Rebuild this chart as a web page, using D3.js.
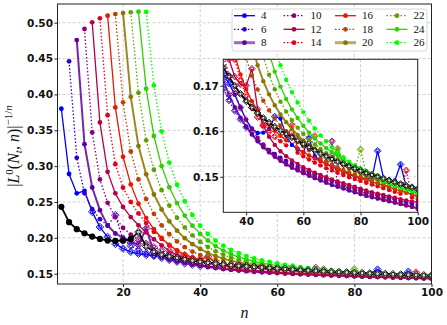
<!DOCTYPE html>
<html>
<head>
<meta charset="utf-8">
<script src="https://cdn.jsdelivr.net/npm/d3@7/dist/d3.min.js"></script>
<style>
  body { margin: 0; background: #fff; }
  svg { display: block; }
  .tick text { font-family: "DejaVu Sans", sans-serif; font-size: 10.5px; font-weight: bold; fill: #111; }
  .tick line { stroke: #222; }
  .grid line { stroke: #bbb; stroke-dasharray: 3,2; stroke-width: 0.7; }
  .frame { fill: none; stroke: #222; stroke-width: 1; }
  .math { font-family: "Liberation Serif", "DejaVu Serif", serif; fill: #111; }
  .legend text { font-family: "Liberation Serif", "DejaVu Serif", serif; font-size: 11px; fill: #111; }
</style>
</head>
<body>
<svg id="chart" width="447" height="325"></svg>
<script>
// N_t values, one curve each; values are |L^0(N_t,n)|^(-1/n) for n = N_t, N_t+2, ..., 100
var ntList = [4, 6, 8, 10, 12, 14, 16, 18, 20, 22, 24, 26];

var nt4 = [0.380, 0.289, 0.262, 0.2655, 0.2362, 0.2150, 0.2010, 0.1915, 0.1850, 0.1805, 0.1778, 0.1762, 0.1756, 0.1745, 0.1725, 0.1705, 0.1680, 0.1652, 0.1625, 0.1606, 0.1596, 0.1597, 0.1605, 0.1632, 0.1628, 0.1590, 0.1570, 0.1560, 0.1554, 0.1585, 0.1545, 0.1535, 0.1528, 0.1522, 0.1516, 0.1511, 0.1506, 0.1501, 0.1497, 0.1495, 0.1497, 0.1557, 0.1498, 0.1490, 0.1492, 0.1527, 0.1478, 0.1470, 0.1462];
var nt6 = [0.4461, 0.3115, 0.262, 0.240, 0.226, 0.217, 0.2316, 0.1975, 0.1890, 0.1830, 0.1785, 0.1750, 0.1720, 0.1693, 0.1668, 0.1645, 0.1626, 0.1609, 0.1594, 0.1581, 0.1569, 0.1559, 0.1550, 0.1542, 0.1535, 0.1528, 0.1522, 0.1516, 0.1510, 0.1505, 0.1500, 0.1495, 0.1490, 0.1486, 0.1482, 0.1478, 0.1474, 0.1470, 0.1466, 0.1462, 0.1459, 0.1456, 0.1453, 0.1450, 0.1447, 0.1444, 0.1441, 0.1438];
var nt8 = [0.4758, 0.3306, 0.2702, 0.2386, 0.2172, 0.2060, 0.2004, 0.1945, 0.1905, 0.2130, 0.1800, 0.1750, 0.1712, 0.1680, 0.1653, 0.1630, 0.1610, 0.1593, 0.1578, 0.1565, 0.1554, 0.1544, 0.1535, 0.1527, 0.1520, 0.1514, 0.1508, 0.1502, 0.1497, 0.1492, 0.1487, 0.1482, 0.1478, 0.1474, 0.1470, 0.1466, 0.1462, 0.1458, 0.1455, 0.1452, 0.1449, 0.1446, 0.1443, 0.1440, 0.1437, 0.1434, 0.1431];
var nt10 = [0.4912, 0.347, 0.2814, 0.2488, 0.2287, 0.2140, 0.2045, 0.1975, 0.1918, 0.1868, 0.1822, 0.1768, 0.1722, 0.1684, 0.1652, 0.1626, 0.1604, 0.1586, 0.1571, 0.1558, 0.1547, 0.1538, 0.1530, 0.1523, 0.1517, 0.1511, 0.1506, 0.1501, 0.1496, 0.1491, 0.1578, 0.1483, 0.1479, 0.1475, 0.1471, 0.1467, 0.1463, 0.1459, 0.1455, 0.1451, 0.1448, 0.1445, 0.1441, 0.1438, 0.1434, 0.1429];
var nt12 = [0.5005, 0.361, 0.292, 0.262, 0.243, 0.229, 0.2175, 0.2075, 0.1980, 0.1895, 0.1820, 0.1758, 0.1720, 0.1703, 0.1700, 0.1737, 0.1648, 0.1612, 0.1588, 0.1570, 0.1556, 0.1545, 0.1536, 0.1528, 0.1521, 0.1515, 0.1509, 0.1504, 0.1499, 0.1494, 0.1490, 0.1486, 0.1482, 0.1478, 0.1474, 0.1470, 0.1466, 0.1463, 0.1460, 0.1457, 0.1454, 0.1451, 0.1448, 0.1446, 0.1444];
var nt14 = [0.5061, 0.371, 0.3027, 0.2700, 0.2500, 0.2340, 0.2205, 0.2085, 0.1985, 0.1895, 0.1818, 0.1758, 0.1712, 0.1678, 0.1652, 0.1631, 0.1614, 0.1600, 0.1588, 0.1578, 0.1569, 0.1590, 0.1553, 0.1545, 0.1538, 0.1531, 0.1525, 0.1519, 0.1514, 0.1509, 0.1504, 0.1499, 0.1495, 0.1491, 0.1487, 0.1483, 0.1479, 0.1475, 0.1471, 0.1467, 0.1463, 0.1514, 0.1455, 0.1451];
var nt16 = [0.5098, 0.3818, 0.313, 0.2745, 0.2475, 0.2275, 0.2120, 0.1998, 0.1900, 0.1825, 0.1768, 0.1725, 0.1692, 0.1666, 0.1645, 0.1628, 0.1614, 0.1601, 0.1590, 0.1580, 0.1613, 0.1562, 0.1554, 0.1547, 0.1540, 0.1534, 0.1528, 0.1522, 0.1517, 0.1512, 0.1507, 0.1502, 0.1497, 0.1493, 0.1489, 0.1485, 0.1481, 0.1477, 0.1473, 0.1469, 0.1465, 0.1461, 0.1457];
var nt18 = [0.5121, 0.389, 0.3204, 0.2815, 0.2540, 0.2335, 0.2175, 0.2050, 0.1950, 0.1870, 0.1808, 0.1760, 0.1722, 0.1692, 0.1667, 0.1646, 0.1628, 0.1613, 0.1600, 0.1588, 0.1577, 0.1567, 0.1558, 0.1590, 0.1541, 0.1534, 0.1527, 0.1521, 0.1515, 0.1510, 0.1505, 0.1500, 0.1495, 0.1490, 0.1486, 0.1482, 0.1478, 0.1474, 0.1470, 0.1466, 0.1462, 0.1458];
var nt20 = [0.5135, 0.3967, 0.328, 0.2885, 0.2605, 0.2395, 0.2230, 0.2100, 0.1995, 0.1912, 0.1845, 0.1790, 0.1745, 0.1710, 0.1681, 0.1657, 0.1637, 0.1620, 0.1605, 0.1592, 0.1580, 0.1570, 0.1561, 0.1553, 0.1545, 0.1538, 0.1562, 0.1525, 0.1519, 0.1513, 0.1507, 0.1502, 0.1497, 0.1492, 0.1488, 0.1484, 0.1480, 0.1476, 0.1472, 0.1468, 0.1464];
var nt22 = [0.5145, 0.4022, 0.336, 0.2950, 0.2665, 0.2450, 0.2280, 0.2145, 0.2035, 0.1945, 0.1872, 0.1812, 0.1763, 0.1724, 0.1692, 0.1665, 0.1643, 0.1624, 0.1608, 0.1594, 0.1582, 0.1571, 0.1561, 0.1552, 0.1544, 0.1537, 0.1530, 0.1524, 0.1518, 0.1560, 0.1507, 0.1502, 0.1497, 0.1493, 0.1489, 0.1485, 0.1481, 0.1477, 0.1473, 0.1469];
var nt24 = [0.5154, 0.4078, 0.342, 0.3000, 0.2705, 0.2485, 0.2310, 0.2170, 0.2055, 0.1962, 0.1885, 0.1822, 0.1772, 0.1731, 0.1698, 0.1671, 0.1648, 0.1629, 0.1612, 0.1597, 0.1584, 0.1573, 0.1563, 0.1554, 0.1546, 0.1538, 0.1531, 0.1525, 0.1519, 0.1513, 0.1508, 0.1503, 0.1498, 0.1494, 0.1490, 0.1486, 0.1482, 0.1478, 0.1474];
var nt26 = [0.515, 0.4126, 0.3485, 0.305, 0.274, 0.251, 0.232, 0.217, 0.2055, 0.196, 0.189, 0.183, 0.1785, 0.1745, 0.1713, 0.1686, 0.1663, 0.1642, 0.1623, 0.1606, 0.1591, 0.1578, 0.1565, 0.1554, 0.1543, 0.1533, 0.1524, 0.1516, 0.1509, 0.1502, 0.1496, 0.1490, 0.1485, 0.1480, 0.1476, 0.1472, 0.1468, 0.1464];
var ntValues = [nt4, nt6, nt8, nt10, nt12, nt14, nt16, nt18, nt20, nt22, nt24, nt26];

// n range [from, to] in which each curve is drawn with open diamonds (spikes are too)
var diamondSpan = [[12, 34], [18, 40], [22, 34], [24, 38], [32, 46], [36, 50], [0, 0], [0, 0], [0, 0], [0, 0], [0, 0], [0, 0]];

// black reference curve, n = 4, 6, ..., 100
var refStart = 4;
var refValues = [0.2432, 0.2218, 0.2120, 0.2064, 0.2018, 0.1985, 0.1962, 0.1957, 0.1960, 0.1985, 0.2080, 0.1880, 0.1805, 0.1765, 0.1740, 0.1720, 0.1700, 0.1682, 0.1666, 0.1652, 0.1640, 0.1629, 0.1619, 0.1610, 0.1602, 0.1594, 0.1587, 0.1580, 0.1572, 0.1565, 0.1558, 0.1551, 0.1545, 0.1539, 0.1533, 0.1528, 0.1523, 0.1518, 0.1513, 0.1508, 0.1504, 0.1500, 0.1496, 0.1492, 0.1488, 0.1484, 0.1480, 0.1477, 0.1473];
var refDiamondSpan = [24, 100];

var xTicks = [20, 40, 60, 80, 100],
    yTicks = [0.15, 0.20, 0.25, 0.30, 0.35, 0.40, 0.45, 0.50],
    insetXTicks = [40, 60, 80, 100],
    insetYTicks = [0.15, 0.16, 0.17];

var svg = d3.select("#chart");
var brg = d3.scaleLinear().domain([0, 0.5, 1]).range(["#0000ff", "#ff0000", "#00ff00"]);

function makePoints(start, vals, span) {
  return vals.map(function(v, j) {
    var n = start + 2 * j;
    var prev = vals[j - 1], next = vals[j + 1];
    var spike = n >= 16 && prev !== undefined && next !== undefined &&
        v > prev && v > next && (v - prev > 0.002 || v - next > 0.002);
    return {n: n, v: v, diamond: (n >= span[0] && n <= span[1]) || spike};
  });
}

var series = ntValues.map(function(vals, i) {
  return {
    nt: ntList[i],
    color: brg(i / (ntList.length - 1)),
    dotted: i % 2 === 1,
    heavy: ntList[i] === 8 || ntList[i] === 20,
    points: makePoints(ntList[i], vals, diamondSpan[i])
  };
});
series.push({nt: null, color: "#000", dotted: false, black: true,
  points: makePoints(refStart, refValues, refDiamondSpan)});

var diamondPath = function(r) { return "M0," + (-r) + "L" + r + ",0L0," + r + "L" + (-r) + ",0Z"; };

function drawPanel(x, y, box, id, dot, dia) {
  var g = svg.append("g");
  g.append("rect").attr("x", box.left).attr("y", box.top)
      .attr("width", box.width).attr("height", box.height).attr("fill", "#fff");

  svg.append("clipPath").attr("id", id).append("rect")
      .attr("x", box.left).attr("y", box.top).attr("width", box.width).attr("height", box.height);

  var grid = g.append("g").attr("class", "grid");
  grid.selectAll(".gx").data(box.xTicks).enter().append("line")
      .attr("x1", x).attr("x2", x).attr("y1", box.top).attr("y2", box.top + box.height);
  grid.selectAll(".gy").data(box.yTicks).enter().append("line")
      .attr("y1", y).attr("y2", y).attr("x1", box.left).attr("x2", box.left + box.width);

  var plot = g.append("g").attr("clip-path", "url(#" + id + ")");
  var line = d3.line().x(function(d) { return x(d.n); }).y(function(d) { return y(d.v); });

  series.forEach(function(s) {
    var sg = plot.append("g");
    sg.append("path").datum(s.points)
        .attr("fill", "none")
        .attr("stroke", s.color)
        .attr("stroke-width", s.black ? 1.8 : (s.heavy ? 2 : 1.3))
        .attr("stroke-opacity", s.heavy ? 0.85 : 1)
        .attr("stroke-dasharray", s.dotted ? "1.5,2" : null)
        .attr("d", line);

    sg.selectAll("circle.dot").data(s.points.filter(function(d) { return !d.diamond; }))
      .enter().append("circle")
        .attr("cx", function(d) { return x(d.n); })
        .attr("cy", function(d) { return y(d.v); })
        .attr("r", s.black ? dot + 0.7 : dot)
        .attr("fill", s.color);

    var dm = sg.selectAll("g.dia").data(s.points.filter(function(d) { return d.diamond; }))
      .enter().append("g")
        .attr("transform", function(d) { return "translate(" + x(d.n) + "," + y(d.v) + ")"; })
        .attr("fill", s.black ? "#fff" : "none")
        .attr("fill-opacity", 0.6)
        .attr("stroke", s.color).attr("stroke-width", 0.9);
    dm.append("path").attr("d", diamondPath(dia));
    dm.append("circle").attr("r", dia * 0.5);
  });

  g.append("g")
      .attr("transform", "translate(0," + (box.top + box.height) + ")")
      .call(d3.axisBottom(x).tickValues(box.xTicks).tickFormat(d3.format("d")).tickSize(3).tickPadding(2))
      .call(function(a) { a.select(".domain").remove(); });
  g.append("g")
      .attr("transform", "translate(" + box.left + ",0)")
      .call(d3.axisLeft(y).tickValues(box.yTicks).tickFormat(d3.format(".2f")).tickSize(3).tickPadding(1.5))
      .call(function(a) { a.select(".domain").remove(); });

  g.append("rect").attr("class", "frame")
      .attr("x", box.left).attr("y", box.top).attr("width", box.width).attr("height", box.height);
  return g;
}

// main axes
var mainBox = {left: 57.5, top: 4, width: 374, height: 280, xTicks: xTicks, yTicks: yTicks};
var x = d3.scaleLinear().domain([3, 100]).range([mainBox.left, mainBox.left + mainBox.width]);
var y = d3.scaleLinear().domain([0.1356, 0.5261]).range([mainBox.top + mainBox.height, mainBox.top]);
drawPanel(x, y, mainBox, "clipMain", 2.4, 3.8);

// inset axes
var insetBox = {left: 223.3, top: 59.3, width: 194.4, height: 153, xTicks: insetXTicks, yTicks: insetYTicks};
var xi = d3.scaleLinear().domain([32, 100]).range([insetBox.left, insetBox.left + insetBox.width]);
var yi = d3.scaleLinear().domain([0.1422, 0.1758]).range([insetBox.top + insetBox.height, insetBox.top]);
drawPanel(xi, yi, insetBox, "clipInset", 2.2, 3.4);

// axis labels
var ylab = svg.append("text").attr("class", "math")
    .attr("transform", "translate(19,146) rotate(-90)")
    .attr("text-anchor", "middle").attr("font-size", 16);
ylab.append("tspan").text("|");
ylab.append("tspan").attr("font-style", "italic").text("L");
ylab.append("tspan").attr("font-size", 11).attr("dy", -6).text("0");
ylab.append("tspan").attr("dy", 6).text("(");
ylab.append("tspan").attr("font-style", "italic").text("N");
ylab.append("tspan").attr("font-style", "italic").attr("font-size", 11).attr("dy", 3).text("t");
ylab.append("tspan").attr("dy", -3).text(", ");
ylab.append("tspan").attr("font-style", "italic").text("n");
ylab.append("tspan").text(")|");
ylab.append("tspan").attr("font-size", 11).attr("dy", -7).text("\u22121/");
ylab.append("tspan").attr("font-size", 11).attr("font-style", "italic").text("n");

svg.append("text").attr("class", "math")
    .attr("x", x(51.5)).attr("y", 318)
    .attr("text-anchor", "middle").attr("font-size", 16).attr("font-style", "italic")
    .text("n");

// legend: 4 columns, 3 rows, filled column by column
var leg = svg.append("g").attr("class", "legend");
leg.append("rect").attr("x", 232).attr("y", 9).attr("width", 195).attr("height", 42)
    .attr("rx", 2.5).attr("fill", "#fff").attr("fill-opacity", 0.85)
    .attr("stroke", "#ccc").attr("stroke-width", 0.8);
var colX = [234, 283.5, 335, 386.5], rowY = [15.7, 29.3, 42.7];
series.filter(function(s) { return !s.black; }).forEach(function(s, i) {
  var cx = colX[Math.floor(i / 3)], cy = rowY[i % 3];
  var e = leg.append("g").attr("transform", "translate(" + cx + "," + cy + ")");
  e.append("line").attr("x1", 0).attr("x2", 21).attr("y1", 0).attr("y2", 0)
      .attr("stroke", s.color)
      .attr("stroke-width", s.heavy ? 3 : 1.3)
      .attr("stroke-opacity", s.heavy ? 0.6 : 1)
      .attr("stroke-dasharray", s.dotted ? "1.5,2" : null);
  e.append("circle").attr("cx", 10.5).attr("r", 2.4).attr("fill", s.color);
  e.append("text").attr("x", 27).attr("dy", "0.33em").text(s.nt);
});
</script>
</body>
</html>
